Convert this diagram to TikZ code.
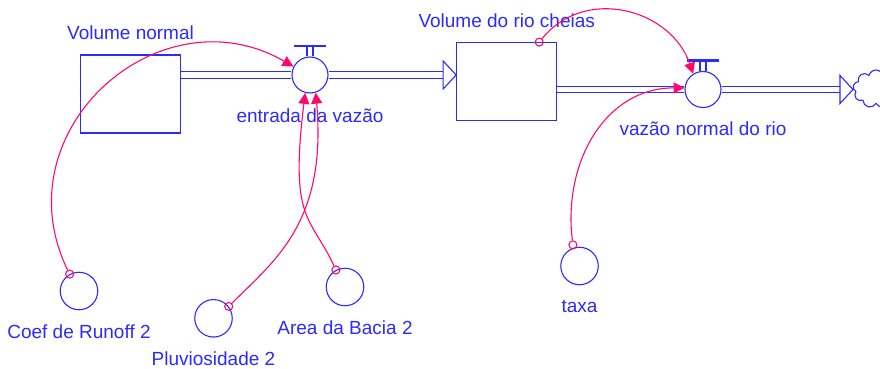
\documentclass[tikz,border=0pt]{standalone}
\usepackage{fontspec}
\setmainfont{Liberation Sans}
\usetikzlibrary{positioning,arrows.meta,shapes.symbols}
\definecolor{sdblue}{HTML}{2B2BFF}
\definecolor{linkpink}{HTML}{FF0A6C}

\tikzset{
  stockbox/.style={draw=sdblue, line width=1.1pt, minimum width=100pt,
                   minimum height=78pt, inner sep=0pt},
  valvenode/.style={circle, draw=sdblue, fill=white, line width=1.1pt,
                    minimum size=36pt, inner sep=0pt},
  auxnode/.style={circle, draw=sdblue, line width=1.1pt,
                  minimum size=37.5pt, inner sep=0pt},
  pipe/.style={draw=sdblue, double=white, double distance=5.5pt, line width=1.1pt},
  pipehead/.style={draw=sdblue, fill=white, line width=1.1pt},
  lbl/.style={text=sdblue, font=\fontsize{19}{22}\selectfont, inner sep=0pt,
              text height=14pt, text depth=4pt},
  link/.style={draw=linkpink, line width=1.1pt, -{Triangle[length=11pt,width=11pt]}},
  linkdot/.style={circle, draw=linkpink, line width=1.1pt, minimum size=8pt, inner sep=0pt},
}

\begin{document}
\begin{tikzpicture}[x=1pt, y=1pt]
\path[fill=white, use as bounding box] (0,0) rectangle (880,-369);

% stocks, valves and the sink
\node[stockbox] (stock1) at (130.5,-94) {};
\node[stockbox] (stock2) at (506.7,-81.7) {};
\node[valvenode] (valve1) at (310,-75) {};
\node[valvenode] (valve2) at (703,-89.5) {};
\node[cloud, cloud puffs=9, aspect=1.1, draw=sdblue, line width=1.1pt,
      minimum width=46pt, minimum height=38pt, inner sep=0pt] (sink) at (876,-89) {};

% flows
\draw[pipe] (stock1.east |- valve1) -- (valve1.west);
\draw[pipe] (valve1.east) -- ([xshift=-13pt]stock2.west |- valve1);
\draw[pipehead] (stock2.west |- valve1) -- ++(-13,-14) -- ++(0,28) -- cycle;
\draw[pipe] (stock2.east |- valve2) -- (valve2.west);
\draw[pipe] (valve2.east) -- ([xshift=-13pt]sink.west |- valve2);
\draw[pipehead] (sink.west |- valve2) -- ++(-13,-14) -- ++(0,28) -- cycle;

\foreach \v in {valve1,valve2}{
  \draw[draw=sdblue, line width=1.1pt] ([xshift=-3pt]\v.north) -- ++(0,10)
        ([xshift=3pt]\v.north) -- ++(0,10);
  \draw[draw=sdblue, line width=2.4pt] ([xshift=-16pt,yshift=10.5pt]\v.north) -- ++(32,0);
}

% converters
\node[auxnode] (runoff) at (79,-291) {};
\node[auxnode] (pluv) at (213.5,-318.3) {};
\node[auxnode] (bacia) at (345,-287) {};
\node[auxnode] (taxa) at (579.5,-266) {};

% labels
\node[lbl, above=11pt of stock1] (stock1lbl) {Volume normal};
\node[lbl, above=10.5pt of stock2] (stock2lbl) {Volume do rio cheias};
\node[lbl, below=14.5pt of valve1] (valve1lbl) {entrada da vazão};
\node[lbl, below=13.5pt of valve2] (valve2lbl) {vazão normal do rio};
\node[lbl, below=14pt of runoff] (runofflbl) {Coef de Runoff 2};
\node[lbl, below=13.5pt of pluv] (pluvlbl) {Pluviosidade 2};
\node[lbl, below=14pt of bacia] (bacialbl) {Area da Bacia 2};
\node[lbl, below=12.5pt of taxa] (taxalbl) {taxa};

% information links
\node[linkdot] (runoffdot) at (runoff.119) {};
\node[linkdot] (pluvdot) at (pluv.38) {};
\node[linkdot] (baciadot) at (bacia.118) {};
\node[linkdot] (taxadot) at ([yshift=3pt]taxa.110) {};
\node[linkdot] (stock2dot) at ([xshift=-18pt]stock2.north east) {};

\draw[link] (runoffdot) to[out=116, in=150, looseness=1.3] (valve1.153);
\draw[link] (pluvdot) .. controls +(45:65) and +(-85:130) .. (valve1.288);
\draw[link] (baciadot) .. controls +(115:60) and +(-97:130) .. (valve1.255);
\draw[link] (stock2dot) to[out=51, in=109, looseness=1.13] (valve2.122);
\draw[link] (taxadot) to[out=97, in=180, looseness=1.07] (valve2.175);
\end{tikzpicture}
\end{document}
